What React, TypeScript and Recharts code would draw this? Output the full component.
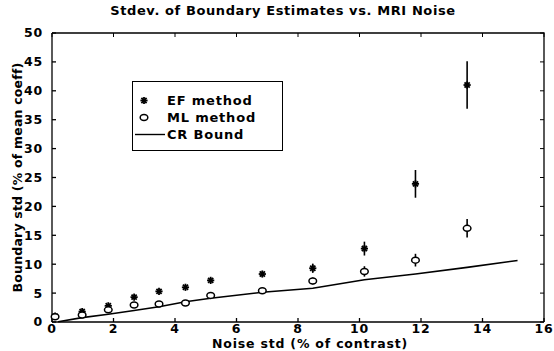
import React from 'react';
import { ComposedChart, Scatter, Line, XAxis, YAxis, ErrorBar, Legend, Label } from 'recharts';

// noise std (% of contrast) at which the estimators were run
const noise = [0.1, 0.98, 1.83, 2.67, 3.48, 4.34, 5.16, 6.84, 8.48, 10.16, 11.82, 13.5];
const efStd = [1.0, 1.8, 2.8, 4.3, 5.3, 6.0, 7.2, 8.3, 9.3, 12.7, 23.9, 41.0];
const efErr = [0.2, 0.3, 0.3, 0.3, 0.3, 0.3, 0.4, 0.5, 0.8, 1.2, 2.4, 4.1];
const mlStd = [0.9, 1.2, 2.1, 2.95, 3.1, 3.3, 4.6, 5.4, 7.1, 8.75, 10.7, 16.2];
const mlErr = [0.2, 0.3, 0.3, 0.3, 0.3, 0.3, 0.3, 0.4, 0.6, 0.9, 1.1, 1.6];
const crNoise = [0.2, 0.98, 1.83, 2.67, 3.48, 4.34, 5.16, 6.84, 8.48, 10.16, 11.82, 13.5, 15.14];
const crBound = [0.05, 0.75, 1.35, 2.0, 2.65, 3.5, 4.1, 5.15, 5.85, 7.3, 8.3, 9.45, 10.65];
const xTicks = [0, 2, 4, 6, 8, 10, 12, 14, 16];
const yTicks = [0, 5, 10, 15, 20, 25, 30, 35, 40, 45, 50];
const X_MAX = 16;
const Y_MAX = 50;

const efData = noise.map((x, i) => ({ x, y: efStd[i], err: efErr[i] }));
const mlData = noise.map((x, i) => ({ x, y: mlStd[i], err: mlErr[i] }));
const crData = crNoise.map((x, i) => ({ x, y: crBound[i] }));
// top and right edges of the axes box, plus inward tick marks on them
const boxEdge = [
  { x: 0, y: Y_MAX },
  { x: X_MAX, y: Y_MAX },
  { x: X_MAX, y: 0 },
];
const topTicks = xTicks.map((x) => ({ x, y: Y_MAX }));
const rightTicks = yTicks.map((y) => ({ x: X_MAX, y }));

const FONT = '"DejaVu Sans", sans-serif';
const tickStyle = { fontFamily: FONT, fontSize: 12.5, fontWeight: 700, fill: '#000', letterSpacing: 0.8 };

function Asterisk(props: any) {
  const { cx, cy } = props;
  const r = 3.6;
  const d = r * 0.72;
  return (
    <g stroke="#000" strokeWidth={1.8}>
      <line x1={cx - r} y1={cy} x2={cx + r} y2={cy} />
      <line x1={cx} y1={cy - r} x2={cx} y2={cy + r} />
      <line x1={cx - d} y1={cy - d} x2={cx + d} y2={cy + d} />
      <line x1={cx - d} y1={cy + d} x2={cx + d} y2={cy - d} />
    </g>
  );
}

function Ring(props: any) {
  const { cx, cy } = props;
  return <ellipse cx={cx} cy={cy} rx={3.8} ry={3} fill="#fff" stroke="#000" strokeWidth={1.5} />;
}

function DownTick(props: any) {
  const { cx, cy } = props;
  return <line x1={cx} y1={cy} x2={cx} y2={cy + 4} stroke="#000" strokeWidth={1} />;
}

function LeftTick(props: any) {
  const { cx, cy } = props;
  return <line x1={cx} y1={cy} x2={cx - 4} y2={cy} stroke="#000" strokeWidth={1} />;
}

function LegendBox() {
  const row = { display: 'flex', alignItems: 'center', height: 17 };
  const label = { fontFamily: FONT, fontSize: 13, fontWeight: 700, letterSpacing: 0.8, color: '#000' };
  return (
    <div style={{ border: '1px solid #000', background: '#fff', width: 151, height: 70, boxSizing: 'border-box', padding: '10px 0 0 0' }}>
      <div style={row}>
        <svg width={34} height={17}><Asterisk cx={11} cy={8.5} /></svg>
        <span style={label}>EF method</span>
      </div>
      <div style={row}>
        <svg width={34} height={17}><Ring cx={11} cy={8.5} /></svg>
        <span style={label}>ML method</span>
      </div>
      <div style={row}>
        <svg width={34} height={17}><line x1={2} y1={8.5} x2={32} y2={8.5} stroke="#000" strokeWidth={1.4} /></svg>
        <span style={label}>CR Bound</span>
      </div>
    </div>
  );
}

export default function App() {
  return (
    <div style={{ position: 'absolute', left: 0, top: 0, width: 554, height: 351, background: '#fff' }}>
      <div
        style={{
          position: 'absolute',
          left: 283,
          top: 3,
          transform: 'translateX(-50%)',
          whiteSpace: 'nowrap',
          fontFamily: FONT,
          fontSize: 13,
          fontWeight: 700,
          letterSpacing: 0.6,
        }}
      >
        Stdev. of Boundary Estimates vs. MRI Noise
      </div>
      <ComposedChart width={554} height={351} margin={{ top: 33, right: 10, left: 0, bottom: 0 }}>
        <XAxis
          dataKey="x"
          type="number"
          domain={[0, X_MAX]}
          ticks={xTicks}
          height={29}
          tickSize={-4}
          tickMargin={6}
          stroke="#000"
          strokeWidth={1.3}
          tick={tickStyle}
        >
          <Label
            content={(p: any) => (
              <text
                x={p.viewBox.x + p.viewBox.width / 2 + 12}
                y={p.viewBox.y + 21}
                textAnchor="middle"
                dominantBaseline="central"
                style={tickStyle}
              >
                Noise std (% of contrast)
              </text>
            )}
          />
        </XAxis>
        <YAxis
          dataKey="y"
          type="number"
          domain={[0, Y_MAX]}
          ticks={yTicks}
          width={52}
          tickSize={-4}
          tickMargin={13}
          stroke="#000"
          strokeWidth={1.3}
          tick={tickStyle}
        >
          <Label
            content={(p: any) => {
              const x = p.viewBox.x + 17;
              const y = p.viewBox.y + p.viewBox.height / 2;
              return (
                <text
                  x={x}
                  y={y}
                  transform={`rotate(-90, ${x}, ${y})`}
                  textAnchor="middle"
                  dominantBaseline="central"
                  style={{ ...tickStyle, fontSize: 12.5, letterSpacing: 0.2 }}
                >
                  Boundary std (% of mean coeff)
                </text>
              );
            }}
          />
        </YAxis>
        <Legend
          content={() => <LegendBox />}
          layout="horizontal"
          verticalAlign="middle"
          align="center"
          wrapperStyle={{ left: 132, top: 81, width: 151, height: 70 }}
        />
        <Line
          data={boxEdge}
          dataKey="y"
          type="linear"
          dot={false}
          stroke="#000"
          strokeWidth={1.3}
          legendType="none"
          isAnimationActive={false}
        />
        <Scatter data={topTicks} dataKey="y" shape={<DownTick />} legendType="none" isAnimationActive={false} />
        <Scatter data={rightTicks} dataKey="y" shape={<LeftTick />} legendType="none" isAnimationActive={false} />
        <Line
          data={crData}
          dataKey="y"
          name="CR Bound"
          type="linear"
          dot={false}
          stroke="#000"
          strokeWidth={1.6}
          isAnimationActive={false}
        />
        <Scatter data={efData} dataKey="y" name="EF method" shape={<Asterisk />} isAnimationActive={false}>
          <ErrorBar dataKey="err" direction="y" width={0} stroke="#000" strokeWidth={1.6} />
        </Scatter>
        <Scatter data={mlData} dataKey="y" name="ML method" shape={<Ring />} isAnimationActive={false}>
          <ErrorBar dataKey="err" direction="y" width={0} stroke="#000" strokeWidth={1.6} />
        </Scatter>
      </ComposedChart>
    </div>
  );
}
